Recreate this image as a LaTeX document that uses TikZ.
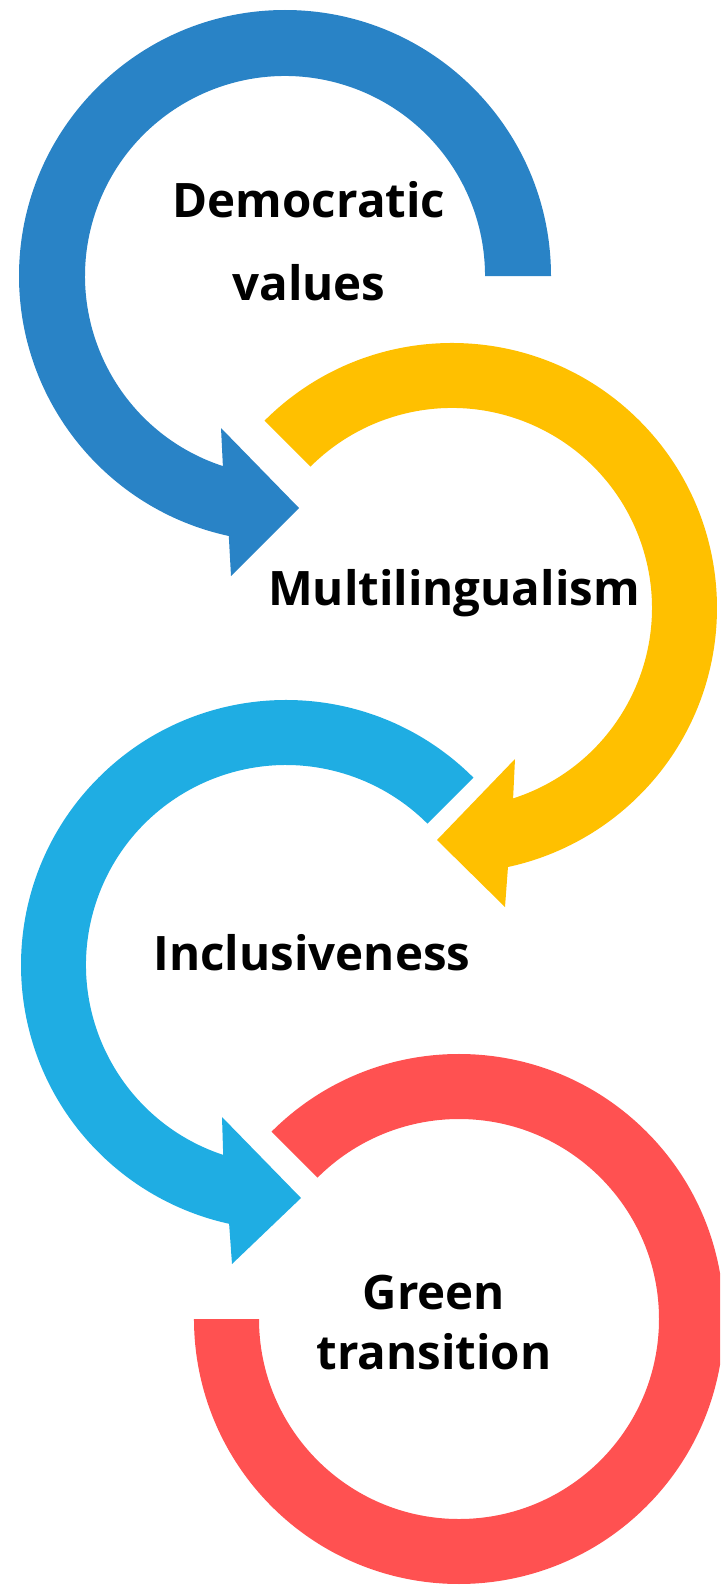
\documentclass[tikz,border=0pt]{standalone}
\usepackage{fontspec}
\setmainfont{Open Sans}
\definecolor{cblue}{RGB}{41,131,198}
\definecolor{cyellow}{RGB}{255,192,0}
\definecolor{ccyan}{RGB}{31,173,227}
\definecolor{cred}{RGB}{255,81,81}
\begin{document}
\begin{tikzpicture}[x=1pt,y=1pt,yscale=-1,
  lbl/.style={text=black, inner sep=0pt, align=center, font=\bfseries\fontsize{47.5}{83}\selectfont},
  ringblue/.style={fill=cblue},
  ringyellow/.style={fill=cyellow},
  ringcyan/.style={fill=ccyan},
  ringred/.style={fill=cred}]
\useasboundingbox (0,0) rectangle (720,1587);
\begin{scope}
\clip (0,0) rectangle (720,1587);
% blue
\fill[ringblue] (551,276) arc[start angle=0, end angle=-257.8, radius=266]
  -- (231,576) -- (299,508) -- (221,428) -- (222.9,466.1)
  arc[start angle=-251.9, end angle=0, radius=200] -- cycle;
% yellow
\fill[ringyellow] (264.6,420.6) arc[start angle=-135, end angle=77.8, radius=265]
  -- (505,907) -- (437,840) -- (515,759) -- (513.1,798.4)
  arc[start angle=72.2, end angle=-135, radius=200] -- cycle;
% cyan
\fill[ringcyan] (473.4,777.6) arc[start angle=-45, end angle=-257.6, radius=265]
  -- (232,1264) -- (301,1198) -- (222,1117) -- (223.2,1154.9)
  arc[start angle=-251.7, end angle=-45, radius=200] -- cycle;
% red
\fill[ringred] (271.6,1131.6) arc[start angle=-135, end angle=180, radius=265]
  -- (259,1319) arc[start angle=180, end angle=-135, radius=200] -- cycle;
\end{scope}
\node[lbl, anchor=base] (dem) at (309,300) {Democratic\\values};
\node[lbl, anchor=base] (mul) at (454,605) {Multilingualism};
\node[lbl, anchor=base] (inc) at (312,970) {Inclusiveness};
\node[lbl, anchor=base, font=\bfseries\fontsize{47.5}{60}\selectfont] (gre) at (434,1369) {Green\\transition};
\end{tikzpicture}
\end{document}
